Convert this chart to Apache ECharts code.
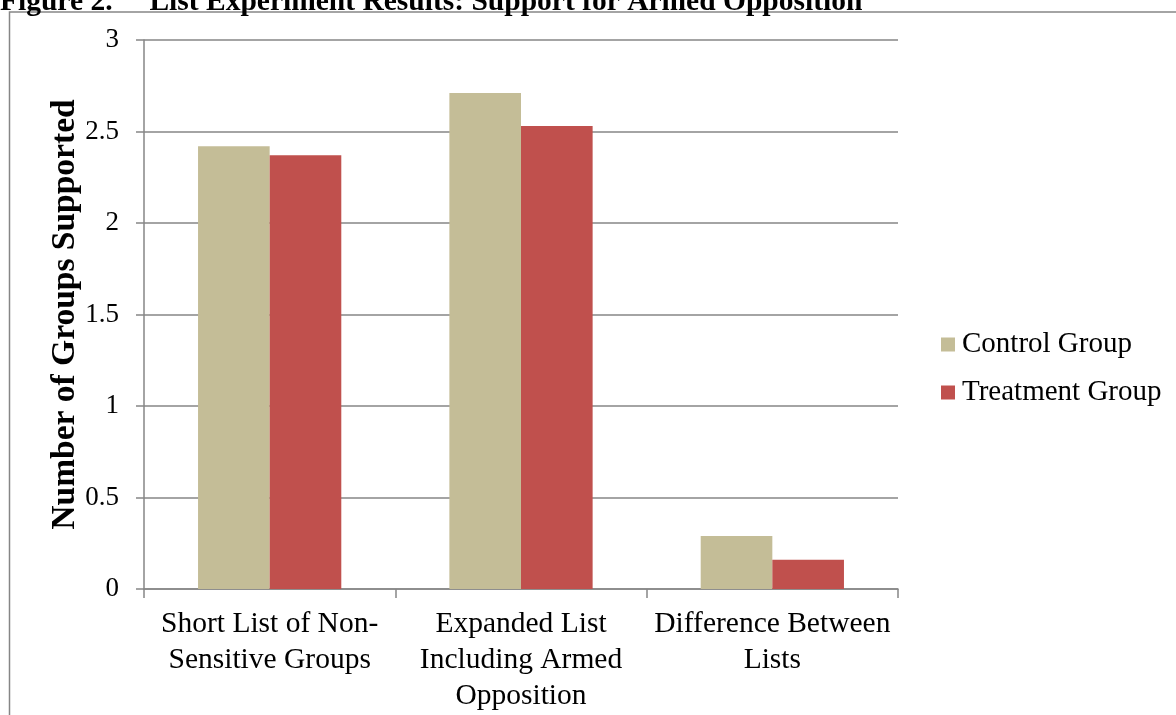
<!DOCTYPE html>
<html>
<head>
<meta charset="utf-8">
<script src="https://cdn.jsdelivr.net/npm/echarts@6/dist/echarts.min.js"></script>
<style>
  html, body { margin: 0; padding: 0; background: #fff; }
  #chart { width: 1176px; height: 715px; }
</style>
</head>
<body>
<div id="chart"></div>
<script>
// --- Data ---
const categories = [
    'Short List of Non-\nSensitive Groups',
    'Expanded List\nIncluding Armed\nOpposition',
    'Difference Between\nLists'
];
const controlValues = [2.42, 2.71, 0.29];
const treatmentValues = [2.37, 2.53, 0.16];
const yTicks = [0, 0.5, 1, 1.5, 2, 2.5, 3];

const serif = '"Liberation Serif", "Times New Roman", serif';
const gray = '#868686';

const chart = echarts.init(document.getElementById('chart'));

chart.setOption({
    animation: false,
    textStyle: { fontFamily: serif },
    graphic: [
        // outer frame, runs off the right and bottom of the picture
        {
            type: 'rect',
            shape: { x: 9.5, y: 12, width: 1200, height: 720 },
            style: { fill: null, stroke: gray, lineWidth: 1.5 }
        },
        {
            type: 'text',
            left: 0,
            top: -13,
            style: {
                text: 'Figure 2.     List Experiment Results: Support for Armed Opposition',
                font: 'bold 29.5px ' + serif,
                fill: '#000'
            }
        }
    ],
    grid: { left: 144, right: 278, top: 40, bottom: 126 },
    legend: {
        orient: 'vertical',
        left: 941,
        top: 330,
        padding: 0,
        icon: 'rect',
        itemWidth: 14,
        itemHeight: 14,
        itemGap: 19,
        textStyle: { fontSize: 29, color: '#000', padding: [0, 0, 0, 2] },
        data: ['Control Group', 'Treatment Group']
    },
    xAxis: {
        type: 'category',
        data: categories,
        axisLine: { lineStyle: { color: gray, width: 1.5 } },
        axisTick: { show: true, length: 9, lineStyle: { color: gray, width: 1.5 } },
        axisLabel: {
            color: '#000',
            fontSize: 29.5,
            lineHeight: 36,
            margin: 17,
            interval: 0
        }
    },
    yAxis: {
        type: 'value',
        min: yTicks[0],
        max: yTicks[yTicks.length - 1],
        interval: 0.5,
        name: 'Number of Groups Supported',
        nameLocation: 'middle',
        nameGap: 62,
        nameMoveOverlap: false,
        nameTextStyle: { fontSize: 33.5, fontWeight: 'bold', color: '#000' },
        axisLine: { show: true, lineStyle: { color: gray, width: 1.5 } },
        axisTick: { show: true, length: 8, lineStyle: { color: gray, width: 1.5 } },
        axisLabel: { color: '#000', fontSize: 27, margin: 25 },
        splitLine: { lineStyle: { color: gray, width: 1.5 } }
    },
    series: [
        {
            name: 'Control Group',
            type: 'bar',
            data: controlValues,
            barGap: '0%',
            barCategoryGap: '43%',
            itemStyle: { color: '#C4BD97' }
        },
        {
            name: 'Treatment Group',
            type: 'bar',
            data: treatmentValues,
            itemStyle: { color: '#C0504D' }
        }
    ]
});
</script>
</body>
</html>
